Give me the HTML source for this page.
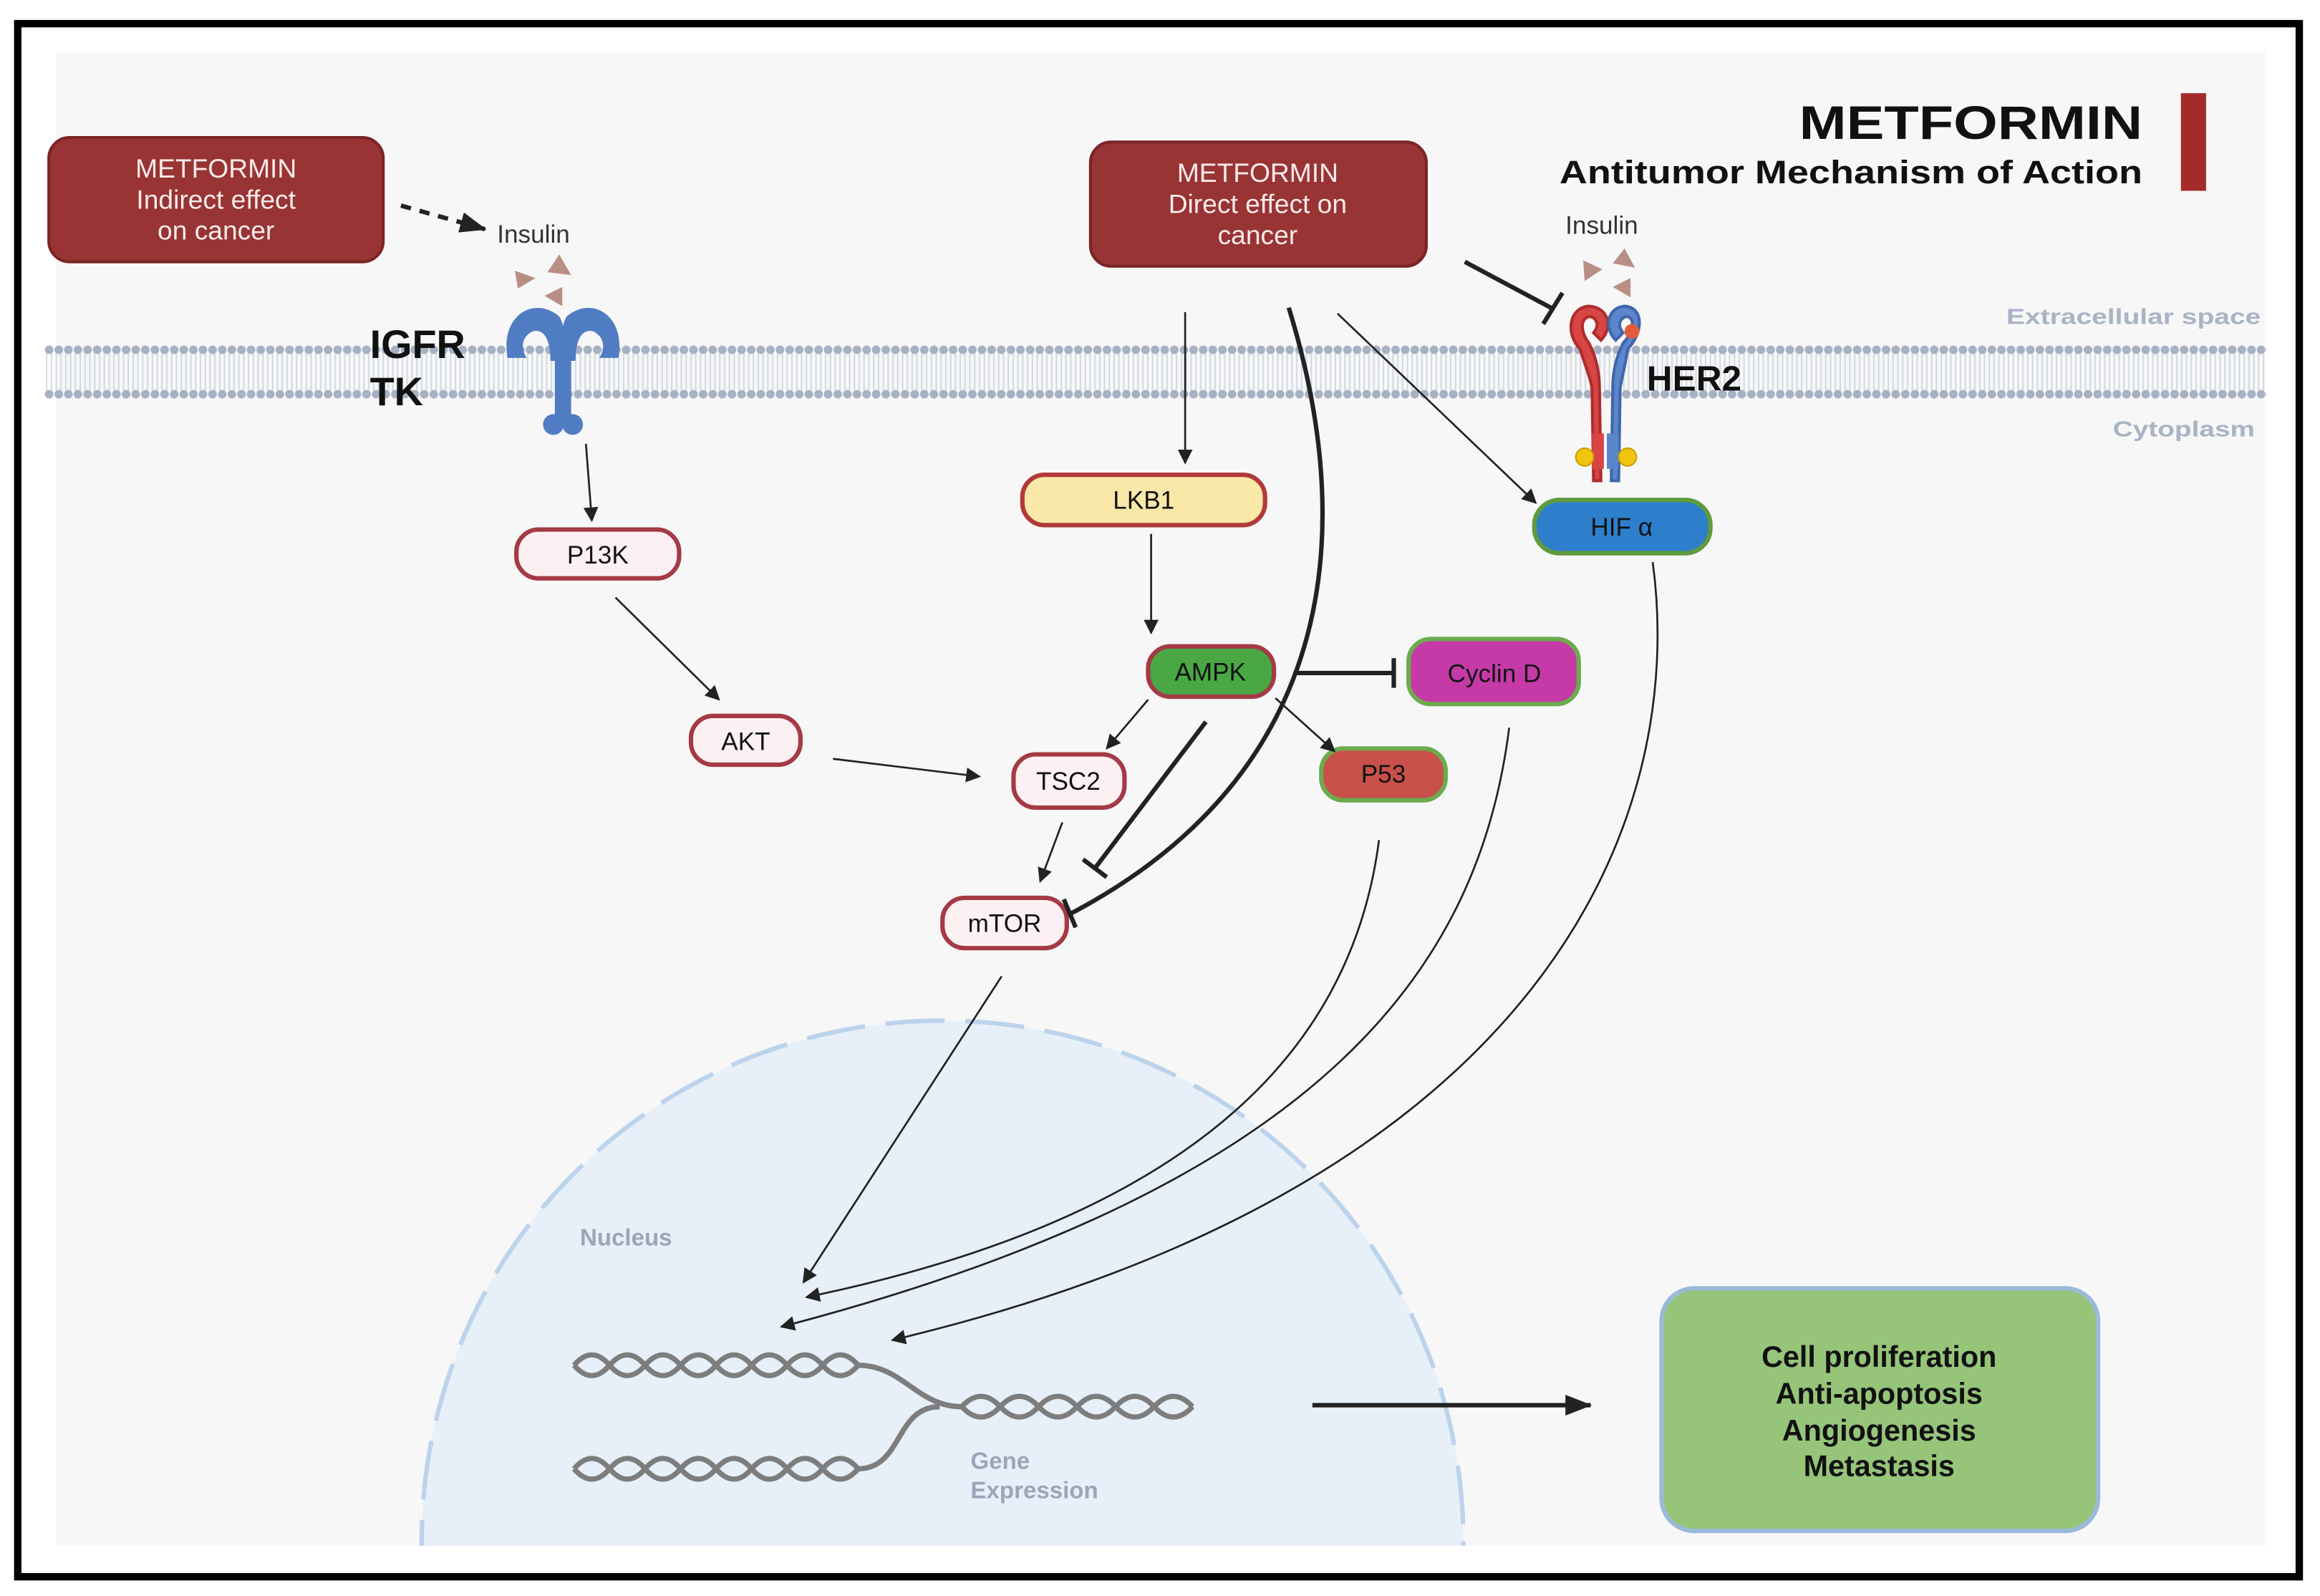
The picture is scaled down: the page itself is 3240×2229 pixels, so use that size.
<!DOCTYPE html>
<html><head><meta charset="utf-8"><style>
html,body{margin:0;padding:0;background:#fff;overflow:hidden;width:3240px;height:2229px;position:relative}
svg{display:block;position:absolute;left:0;top:0}
text{font-family:"Liberation Sans",sans-serif}
</style></head><body>
<svg width="3240" height="2229" viewBox="0 0 1568 1079" preserveAspectRatio="none" xmlns="http://www.w3.org/2000/svg">
<defs>
<marker id="ah" markerWidth="10" markerHeight="10" refX="9" refY="5" orient="auto" markerUnits="userSpaceOnUse"><path d="M0,0 L10,5 L0,10 z" fill="#222"/></marker>
<marker id="ahb" markerWidth="18" markerHeight="14" refX="17" refY="7" orient="auto" markerUnits="userSpaceOnUse"><path d="M0,0 L18,7 L0,14 z" fill="#222"/></marker>
<pattern id="dots1" x="30" y="233" width="6.5" height="7" patternUnits="userSpaceOnUse"><circle cx="3.2" cy="3.5" r="2.9" fill="#a7b1c4"/></pattern>
<pattern id="dots2" x="30" y="263" width="6.5" height="7" patternUnits="userSpaceOnUse"><circle cx="3.2" cy="3.5" r="2.9" fill="#a7b1c4"/></pattern>
<pattern id="tails" x="30" y="0" width="3.25" height="40" patternUnits="userSpaceOnUse"><line x1="1.5" y1="0" x2="1.5" y2="40" stroke="#cfd6e2" stroke-width="0.9"/></pattern>
<clipPath id="cl"><rect x="38" y="35" width="1493" height="1010"/></clipPath>
</defs>
<rect width="1568" height="1079" fill="#fff"/>
<rect x="12" y="16" width="1542" height="1050" fill="#fff" stroke="#000" stroke-width="5"/>
<rect x="38" y="35" width="1493" height="1010" fill="#f7f7f7"/>
<rect x="30" y="239" width="1502" height="25" fill="url(#tails)"/>
<rect x="30" y="233" width="1502" height="7" fill="url(#dots1)"/>
<rect x="30" y="263" width="1502" height="7" fill="url(#dots2)"/>
<text x="1528" y="219" font-size="15" font-weight="bold" fill="#a9b3c6" text-anchor="end" textLength="172" lengthAdjust="spacingAndGlyphs">Extracellular space</text>
<text x="1524" y="295" font-size="15" font-weight="bold" fill="#a9b3c6" text-anchor="end" textLength="96" lengthAdjust="spacingAndGlyphs">Cytoplasm</text>
<g clip-path="url(#cl)">
<circle cx="637" cy="1042" r="352" fill="#e7eff8"/>
<circle cx="637" cy="1042" r="352" fill="none" stroke="#bcd3ec" stroke-width="3" stroke-dasharray="40 14"/>
</g>
<text x="392" y="842" font-size="16" font-weight="bold" fill="#9aa6b8">Nucleus</text>
<text x="656" y="993" font-size="16" font-weight="bold" fill="#9aa6b8">Gene</text>
<text x="656" y="1013" font-size="16" font-weight="bold" fill="#9aa6b8">Expression</text>
<g fill="none" stroke="#7d7d7d" stroke-width="3.5">
<path d="M388,923 q12,-14 24,0 t24,0 t24,0 t24,0 t24,0 t24,0 t24,0 t24,0 c30,0 40,28 70,28 q13,-14 26,0 t26,0 t26,0 t26,0 t26,0 t26,0"/>
<path d="M388,923 q12,14 24,0 t24,0 t24,0 t24,0 t24,0 t24,0 t24,0 t24,0 c30,0 40,28 70,28 q13,14 26,0 t26,0 t26,0 t26,0 t26,0 t26,0"/>
<path d="M388,993 q12,-14 24,0 t24,0 t24,0 t24,0 t24,0 t24,0 t24,0 t24,0 c30,0 25,-42 55,-42"/>
<path d="M388,993 q12,14 24,0 t24,0 t24,0 t24,0 t24,0 t24,0 t24,0 t24,0 c30,0 25,-42 55,-42"/>
</g>
<text x="1448" y="94" font-size="32" font-weight="bold" fill="#111" text-anchor="end" textLength="232" lengthAdjust="spacingAndGlyphs">METFORMIN</text>
<text x="1448" y="124" font-size="22" font-weight="bold" fill="#111" text-anchor="end" textLength="394" lengthAdjust="spacingAndGlyphs">Antitumor Mechanism of Action</text>
<rect x="1474" y="63" width="17" height="66" fill="#a52a2a"/>
<rect x="33" y="93" width="226" height="84" rx="14" fill="#983434" stroke="#7a2424" stroke-width="2"/>
<text font-size="18" fill="#fbeaea" text-anchor="middle"><tspan x="146" y="120">METFORMIN</tspan><tspan x="146" y="141">Indirect effect</tspan><tspan x="146" y="162">on cancer</tspan></text>
<rect x="737" y="96" width="227" height="84" rx="14" fill="#983434" stroke="#7a2424" stroke-width="2"/>
<text font-size="18" fill="#fbeaea" text-anchor="middle"><tspan x="850" y="123">METFORMIN</tspan><tspan x="850" y="144">Direct effect on</tspan><tspan x="850" y="165">cancer</tspan></text>
<line x1="271" y1="139" x2="328" y2="155" stroke="#222" stroke-width="3" stroke-dasharray="7 6" marker-end="url(#ahb)"/>
<text x="336" y="164" font-size="17" fill="#333">Insulin</text>
<text x="1058" y="158" font-size="17" fill="#333">Insulin</text>
<g fill="#b98f85">
<path d="M348,183 L362,188 L350,195z"/><path d="M378,172 L386,186 L370,184z"/><path d="M380,194 L380,207 L368,200z"/>
<path d="M1070,176 L1083,182 L1071,190z"/><path d="M1098,168 L1105,181 L1090,178z"/><path d="M1102,188 L1102,201 L1090,194z"/>
</g>
<g fill="#4f7cc3">
<path d="M343,242 C338,212 362,200 378,214 C382,220 382,232 380,244 L372,244 C372,230 368,222 360,224 C352,228 352,236 356,242z"/>
<path d="M418,242 C423,212 399,200 383,214 C379,220 379,232 381,244 L389,244 C389,230 393,222 401,224 C409,228 409,236 405,242z"/>
<rect x="375" y="236" width="11" height="48"/>
<circle cx="374" cy="287" r="7"/><circle cx="387" cy="287" r="7"/>
</g>
<text x="250" y="242" font-size="27" font-weight="bold" fill="#111">IGFR</text>
<text x="250" y="274" font-size="27" font-weight="bold" fill="#111">TK</text>
<g>
<path d="M1068,236 C1058,226 1060,208 1074,207 C1088,208 1090,222 1082,230 L1077,225 C1082,219 1078,214 1074,214 C1067,216 1069,226 1074,232 C1079,242 1081,252 1081,262 L1082,325 L1077,325 L1076,262 C1074,252 1070,244 1068,236z" fill="#d84545" stroke="#b02c2c" stroke-width="2"/>
<path d="M1100,236 C1110,226 1112,208 1098,207 C1086,208 1084,222 1092,230 L1097,225 C1092,219 1096,214 1100,214 C1106,216 1103,226 1097,232 C1092,242 1090,252 1090,262 L1089,325 L1094,325 L1095,262 C1097,252 1099,244 1100,236z" fill="#5b86cc" stroke="#3f67aa" stroke-width="2"/>
<circle cx="1103" cy="224" r="5" fill="#e35b3a"/>
<rect x="1076" y="293" width="8" height="24" fill="#d84545"/><rect x="1086" y="293" width="8" height="24" fill="#5b86cc"/>
<circle cx="1071" cy="309" r="6" fill="#f1c40f" stroke="#c9a000"/><circle cx="1100" cy="309" r="6" fill="#f1c40f" stroke="#c9a000"/>
</g>
<text x="1113" y="264" font-size="24" font-weight="bold" fill="#111">HER2</text>
<g font-size="17" text-anchor="middle" fill="#111">
<rect x="349" y="358" width="110" height="33" rx="15" fill="#fdf0f3" stroke="#a33a45" stroke-width="3"/><text x="404" y="381">P13K</text>
<rect x="467" y="484" width="74" height="33" rx="15" fill="#fdf0f3" stroke="#a33a45" stroke-width="3"/><text x="504" y="507">AKT</text>
<rect x="691" y="321" width="164" height="34" rx="15" fill="#f9e8a8" stroke="#b03a3a" stroke-width="3"/><text x="773" y="344">LKB1</text>
<rect x="776" y="437" width="85" height="34" rx="15" fill="#49a843" stroke="#a33a45" stroke-width="3"/><text x="818" y="460">AMPK</text>
<rect x="952" y="432" width="115" height="44" rx="15" fill="#c63aa8" stroke="#6cab4e" stroke-width="3"/><text x="1010" y="461">Cyclin D</text>
<rect x="685" y="510" width="75" height="36" rx="15" fill="#fdf0f3" stroke="#a33a45" stroke-width="3"/><text x="722" y="534">TSC2</text>
<rect x="893" y="506" width="84" height="35" rx="15" fill="#c9504a" stroke="#6cab4e" stroke-width="3"/><text x="935" y="529">P53</text>
<rect x="637" y="607" width="84" height="34" rx="15" fill="#fdf0f3" stroke="#a33a45" stroke-width="3"/><text x="679" y="630">mTOR</text>
<rect x="1037" y="338" width="119" height="36" rx="17" fill="#2d7fcc" stroke="#5f9a3c" stroke-width="3"/><text x="1096" y="362">HIF α</text>
</g>
<g stroke="#222" stroke-width="1.3" fill="none">
<line x1="396" y1="300" x2="400" y2="352" marker-end="url(#ah)"/>
<line x1="416" y1="404" x2="486" y2="473" marker-end="url(#ah)"/>
<line x1="563" y1="513" x2="662" y2="525" marker-end="url(#ah)"/>
<line x1="801" y1="211" x2="801" y2="313" marker-end="url(#ah)"/>
<line x1="778" y1="361" x2="778" y2="428" marker-end="url(#ah)"/>
<line x1="776" y1="473" x2="748" y2="506" marker-end="url(#ah)"/>
<line x1="862" y1="472" x2="902" y2="508" marker-end="url(#ah)"/>
<line x1="718" y1="556" x2="703" y2="596" marker-end="url(#ah)"/>
<line x1="904" y1="212" x2="1038" y2="340" marker-end="url(#ah)"/>
<line x1="677" y1="660" x2="543" y2="867" marker-end="url(#ah)"/>
<path d="M932,568 C915,700 820,820 545,877" marker-end="url(#ah)"/>
<path d="M1020,492 C1000,650 900,800 528,897" marker-end="url(#ah)"/>
<path d="M1117,380 C1140,550 1050,800 603,906" marker-end="url(#ah)"/>
</g>
<g stroke="#222" stroke-width="3" fill="none">
<line x1="990" y1="177" x2="1050" y2="209"/><line x1="1043" y1="219" x2="1056" y2="198"/>
<line x1="876" y1="455" x2="942" y2="455"/><line x1="942" y1="445" x2="942" y2="465"/>
<line x1="815" y1="488" x2="740" y2="587"/><line x1="732" y1="581" x2="748" y2="593"/>
<path d="M871,208 C915,350 910,520 723,618"/><line x1="719" y1="608" x2="727" y2="627"/>
<line x1="887" y1="950" x2="1075" y2="950" marker-end="url(#ahb)"/>
</g>
<rect x="1123" y="871" width="295" height="164" rx="22" fill="#96c57a" stroke="#9bb9d8" stroke-width="3"/>
<text font-size="20" font-weight="bold" fill="#111" text-anchor="middle"><tspan x="1270" y="924">Cell proliferation</tspan><tspan x="1270" y="949">Anti-apoptosis</tspan><tspan x="1270" y="974">Angiogenesis</tspan><tspan x="1270" y="998">Metastasis</tspan></text>
</svg>
</body></html>
